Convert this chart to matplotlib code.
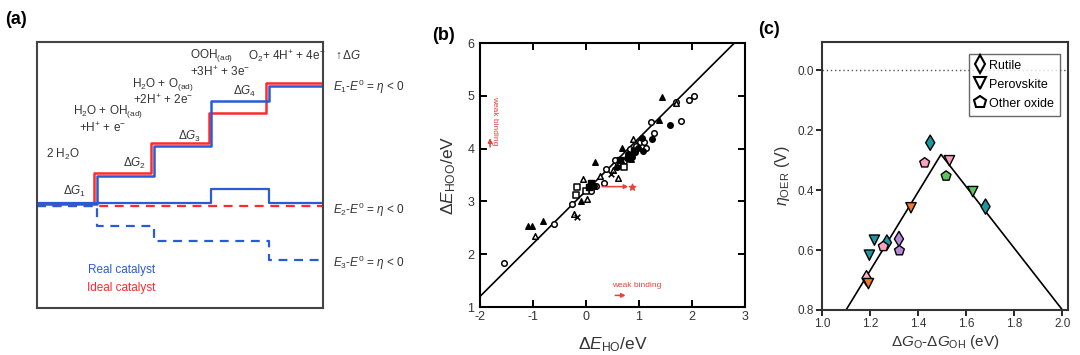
import numpy as np
import matplotlib
matplotlib.use("Agg")
import matplotlib.pyplot as plt
from matplotlib.lines import Line2D

plt.rcParams['font.family'] = ['Liberation Sans', 'DejaVu Sans']
plt.rcParams['mathtext.fontset'] = 'custom'
plt.rcParams['mathtext.rm'] = 'Liberation Sans'
plt.rcParams['mathtext.it'] = 'Liberation Sans:italic'
plt.rcParams['mathtext.bf'] = 'Liberation Sans:bold'
plt.rcParams['axes.unicode_minus'] = False

TXT = "#333333"
RED = "#ff2a2a"
BLUE = "#2a5bd7"

# ============================================================
# DATA (a) - free energy levels per step (eV)
# ============================================================
steps_x      = [0, 1, 2, 3, 4, 5]
ideal_E1     = [0.0, 1.23, 2.46, 3.69, 4.92]
real_E1      = [-0.05, 1.11, 2.34, 4.18, 4.80]
real_E2      = [0.0, 0.0, 0.0, 0.57, 0.0]
ideal_E2     = [-0.10, -0.10, -0.10, -0.10, -0.10]
real_E3      = [-0.12, -0.94, -1.56, -1.56, -2.34]

# ============================================================
# DATA (b) - scaling relation
# ============================================================
oc_x = [-1.55, -0.60, -0.27, 0.19, 0.34, 0.38, 0.55, 0.72, 0.83, 0.92, 1.02,
        1.09, 1.14, 1.28, 1.22, 1.79, 1.95, 2.04, 0.10, 0.60, 0.95, 1.70]
oc_y = [1.83, 2.57, 2.95, 3.29, 3.35, 3.61, 3.79, 3.76, 3.99, 3.93, 4.12,
        4.12, 4.02, 4.29, 4.50, 4.53, 4.92, 5.00, 3.20, 3.70, 4.05, 4.88]
ft_x = [-1.09, -1.01, -0.82, -0.10, 0.17, 0.67, 1.38, 1.44, 0.05, 0.85]
ft_y = [2.53, 2.53, 2.62, 3.01, 3.75, 4.01, 4.54, 4.98, 3.33, 3.80]
ot_x = [-0.97, -0.23, 0.02, -0.05, 0.26, 0.61, 0.89, 1.69, 0.70, 0.50]
ot_y = [2.34, 2.77, 3.04, 3.42, 3.48, 3.45, 4.18, 4.87, 3.70, 3.60]
fc_x = [1.58, 1.05, 1.24, 0.77, 0.86, 0.58, 0.98, 1.08, 0.15, 0.79]
fc_y = [4.44, 4.21, 4.18, 3.82, 3.85, 3.65, 4.01, 3.95, 3.30, 3.90]
os_x = [-0.17, -0.19, 0.72, 0.00]
os_y = [3.27, 3.13, 3.65, 3.20]
fs_x = [0.06, 0.10, 0.90, 0.65]
fs_y = [3.27, 3.34, 3.95, 3.78]
cr_x = [-0.17, 0.47]
cr_y = [2.71, 3.52]
fit_x = [-2.0, 2.8]
fit_y = [1.2, 6.0]

# ============================================================
# DATA (c) - volcano
# ============================================================
rut_x = [1.45, 1.68, 1.32, 1.185, 1.27]
rut_y = [0.242, 0.455, 0.563, 0.694, 0.575]
rut_c = ["#1a9aa0", "#1a9aa0", "#b48ad6", "#f4b6c8", "#1a9aa0"]
per_x = [1.53, 1.627, 1.37, 1.218, 1.197, 1.193]
per_y = [0.302, 0.405, 0.459, 0.567, 0.617, 0.712]
per_c = ["#f7a3bf", "#5cc65c", "#f07a30", "#1a9aa0", "#1a9aa0", "#f07a30"]
oth_x = [1.427, 1.516, 1.322, 1.255]
oth_y = [0.309, 0.353, 0.602, 0.588]
oth_c = ["#f7a3bf", "#5cc65c", "#b48ad6", "#f7a3bf"]
volc_x = [1.10, 1.495, 2.00]
volc_y = [0.80, 0.281, 0.80]

W, H = 1080, 355
fig = plt.figure(figsize=(W / 100, H / 100), dpi=100)
fig.patch.set_facecolor("white")

def rect(l, t, r, b):
    return [l / W, 1 - b / H, (r - l) / W, (b - t) / H]

# ============================================================
# PANEL (a)
# ============================================================
ax = fig.add_axes(rect(37, 42, 323, 308))
ax.set_xlim(0, 5)
ax.set_ylim(-4.3, 6.6)
ax.set_xticks([]); ax.set_yticks([])
for s in ax.spines.values():
    s.set_linewidth(1.5); s.set_color("#444444")

def stairs(levels, dx=0.0, **kw):
    xs, ys = [], []
    for i, lv in enumerate(levels):
        x0 = steps_x[i] + (dx if i > 0 else 0)
        x1 = steps_x[i + 1] + (dx if i < len(levels) - 1 else 0)
        xs += [x0, x1]; ys += [lv, lv]
    ax.plot(xs, ys, **kw)

stairs(ideal_E1, color=RED, lw=1.8)
stairs(real_E1, dx=0.05, color=BLUE, lw=1.8)
stairs(real_E2, dx=0.05, color=BLUE, lw=1.6)
stairs(ideal_E2, color=RED, lw=1.6, ls=(0, (4, 3)))
stairs(real_E3, dx=0.05, color=BLUE, lw=1.6, ls=(0, (4, 3)))

fs_a = 8.5
def t(x, y, s, **kw):
    kw.setdefault('color', TXT)
    kw.setdefault('ha', 'center')
    ax.text(x, y, s, fontsize=fs_a, va='center', **kw)

t(0.66, 0.49, r'$\Delta G_1$')
t(1.71, 1.64, r'$\Delta G_2$')
t(2.67, 2.75, r'$\Delta G_3$')
t(3.64, 4.59, r'$\Delta G_4$')
t(0.45, 2.0, r'2 H$_2$O')
t(1.24, 3.74, r'H$_2$O + OH$_{\rm (ad)}$')
t(1.15, 3.08, r'+H$^{+}$ + e$^{-}$')
t(2.2, 4.84, r'H$_2$O + O$_{\rm (ad)}$')
t(2.2, 4.20, r'+2H$^{+}$ + 2e$^{-}$')
t(3.05, 6.04, r'OOH$_{\rm (ad)}$')
t(3.2, 5.38, r'+3H$^{+}$ + 3e$^{-}$')
t(4.36, 6.04, r'O$_2$+ 4H$^{+}$ + 4e$^{-}$')
t(5.2, 6.04, r'$\uparrow\!\Delta G$', ha='left', clip_on=False)
for yy, k in [(4.78, 1), (-0.28, 2), (-2.45, 3)]:
    t(5.17, yy, r'$E_%d$-$E^0$ = $\eta$ < 0' % k, ha='left', clip_on=False)
t(1.47, -2.75, 'Real catalyst', color=BLUE)
t(1.47, -3.48, 'Ideal catalyst', color=RED)

fig.text(5 / W, 1 - 20 / H, '(a)', fontsize=13, fontweight='bold', va='center', ha='left')
fig.text(432 / W, 1 - 36 / H, '(b)', fontsize=13, fontweight='bold', va='center', ha='left')
fig.text(758 / W, 1 - 30 / H, '(c)', fontsize=13, fontweight='bold', va='center', ha='left')

# ============================================================
# PANEL (b)
# ============================================================
bx = fig.add_axes(rect(480, 43, 745, 307))
bx.set_xlim(-2, 3); bx.set_ylim(1, 6)
bx.plot(fit_x, fit_y, color='black', lw=1.2)
ms = 16
bx.scatter(oc_x, oc_y, s=ms, marker='o', facecolor='white', edgecolor='black', lw=1.1, zorder=3)
bx.scatter(ot_x, ot_y, s=ms, marker='^', facecolor='white', edgecolor='black', lw=1.1, zorder=3)
bx.scatter(os_x, os_y, s=ms, marker='s', facecolor='white', edgecolor='black', lw=1.1, zorder=3)
bx.scatter(ft_x, ft_y, s=ms, marker='^', facecolor='black', edgecolor='black', lw=1.0, zorder=3)
bx.scatter(fc_x, fc_y, s=ms, marker='o', facecolor='black', edgecolor='black', lw=1.0, zorder=3)
bx.scatter(fs_x, fs_y, s=ms, marker='s', facecolor='black', edgecolor='black', lw=1.0, zorder=3)
bx.scatter(cr_x, cr_y, s=ms, marker='x', color='black', lw=1.2, zorder=3)
bx.annotate('', xy=(0.85, 3.28), xytext=(0.25, 3.28),
            arrowprops=dict(arrowstyle='-|>', color='#e8413a', lw=1.1, mutation_scale=6))
bx.scatter([0.86], [3.28], s=22, marker='*', color='#e8413a', zorder=4)
bx.text(0.5, 1.4, 'weak binding', fontsize=6, color='#e8413a', ha='left', va='center')
bx.annotate('', xy=(0.8, 1.22), xytext=(0.5, 1.22),
            arrowprops=dict(arrowstyle='-|>', color='#e8413a', lw=1.1, mutation_scale=6))
bx.text(-1.72, 4.52, 'weak binding', fontsize=6, color='#e8413a', ha='center', va='center', rotation=-90)
bx.annotate('', xy=(-1.81, 4.25), xytext=(-1.81, 3.98),
            arrowprops=dict(arrowstyle='-|>', color='#e8413a', lw=1.1, mutation_scale=6))
bx.set_xticks(range(-2, 4)); bx.set_yticks(range(1, 7))
bx.tick_params(direction='in', top=True, right=True, length=5, width=1.4,
               labelsize=9, labelcolor=TXT)
bx.tick_params(axis='x', pad=3)
bx.tick_params(axis='y', pad=4)
for s in bx.spines.values():
    s.set_linewidth(1.5)
bx.set_xlabel(r'$\Delta E_{\rm HO}$/eV', fontsize=12.5, color=TXT, labelpad=9)
bx.set_ylabel(r'$\Delta E_{\rm HOO}$/eV', fontsize=12.5, color=TXT, labelpad=7)

# ============================================================
# PANEL (c)
# ============================================================
cx = fig.add_axes(rect(822, 42, 1068, 310))
cx.set_xlim(1.0, 2.023); cx.set_ylim(0.8, -0.094)
cx.axhline(0.0, color='#555555', lw=1.0, ls=(0, (1, 2)))
cx.plot(volc_x, volc_y, color='black', lw=1.2, zorder=2)
mk = dict(edgecolor='black', lw=1.0, zorder=3)
cx.scatter(rut_x, rut_y, s=60, marker='d', c=rut_c, **mk)
cx.scatter(per_x, per_y, s=55, marker='v', c=per_c, **mk)
cx.scatter(oth_x, oth_y, s=55, marker='p', c=oth_c, **mk)
handles = [
    Line2D([], [], ls='', marker='d', ms=9, mfc='white', mec='black', mew=1.5, label='Rutile'),
    Line2D([], [], ls='', marker='v', ms=9, mfc='white', mec='black', mew=1.5, label='Perovskite'),
    Line2D([], [], ls='', marker='p', ms=9, mfc='white', mec='black', mew=1.5, label='Other oxide'),
]
leg = cx.legend(handles=handles, loc='upper right', fontsize=9, frameon=True, fancybox=False,
                edgecolor='#444444', handlelength=0.8, handletextpad=0.3, borderpad=0.5,
                labelspacing=0.55, borderaxespad=0, bbox_to_anchor=(0.967, 0.957))
leg.get_frame().set_linewidth(1.0)
cx.set_xticks([1.0, 1.2, 1.4, 1.6, 1.8, 2.0])
cx.set_yticks([0.0, 0.2, 0.4, 0.6, 0.8])
cx.xaxis.set_major_formatter(matplotlib.ticker.FormatStrFormatter('%.1f'))
cx.yaxis.set_major_formatter(matplotlib.ticker.FormatStrFormatter('%.1f'))
cx.tick_params(direction='out', length=4, width=1.2, labelsize=8.5, labelcolor=TXT, pad=2)
for s in cx.spines.values():
    s.set_linewidth(1.5); s.set_color('#333333')
cx.set_xlabel(r'$\Delta G_{\rm O}$-$\Delta G_{\rm OH}$ (eV)', fontsize=11, color=TXT, labelpad=2)
cx.set_ylabel(r'$\eta_{\rm OER}$ (V)', fontsize=11.5, color=TXT, labelpad=4)

fig.savefig("out.png", dpi=100)
